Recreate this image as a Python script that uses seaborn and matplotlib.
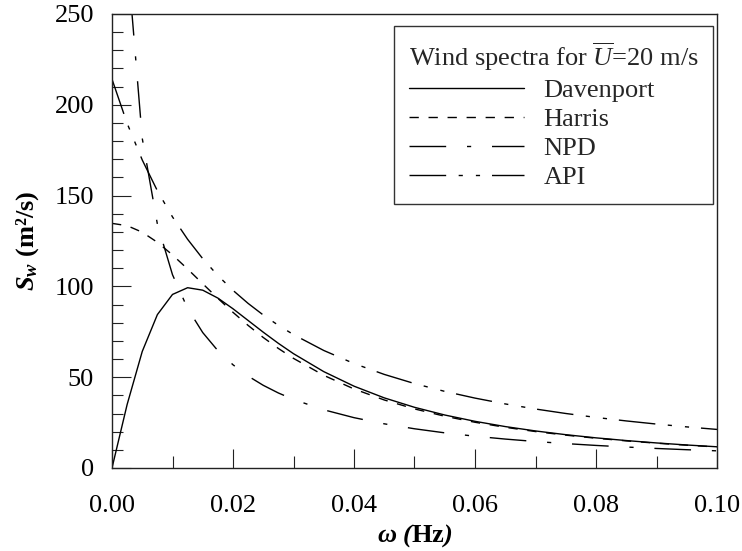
import matplotlib
matplotlib.use('Agg')
import matplotlib.pyplot as plt
from matplotlib.ticker import MultipleLocator, FormatStrFormatter
import pandas as pd
import seaborn as sns

# frequency grid (Hz) and spectral densities (m^2/s)
freq = [0.0, 0.0025, 0.005, 0.0075, 0.01, 0.0125, 0.015, 0.0175, 0.02,
        0.0225, 0.025, 0.0275, 0.03, 0.035, 0.04, 0.045, 0.05, 0.055,
        0.06, 0.065, 0.07, 0.075, 0.08, 0.085, 0.09, 0.095, 0.1]
davenport = [0.0, 34.95, 64.18, 84.46, 95.57, 99.28, 97.92, 93.56, 87.68,
             81.23, 74.78, 68.64, 62.95, 53.07, 45.06, 38.62, 33.42, 29.18,
             25.70, 22.81, 20.40, 18.35, 16.60, 15.11, 13.80, 12.67, 11.68]
harris = [134.70, 133.45, 129.84, 124.29, 117.34, 109.56, 101.46, 93.42, 85.72,
          78.51, 71.87, 65.83, 60.36, 51.03, 43.52, 37.46, 32.54, 28.51,
          25.18, 22.41, 20.07, 18.09, 16.39, 14.93, 13.66, 12.55, 11.58]
npd = [1280.0, 282.68, 181.51, 134.33, 106.42, 87.85, 74.57, 64.60, 56.83,
       50.61, 45.53, 41.31, 37.75, 32.05, 27.72, 24.33, 21.60, 19.36,
       17.50, 15.93, 14.59, 13.44, 12.43, 11.55, 10.76, 10.07, 9.45]
api = [214.10, 189.79, 169.61, 152.66, 138.26, 125.93, 115.26, 105.96, 97.82,
       90.63, 84.25, 78.56, 73.46, 64.72, 57.53, 51.54, 46.49, 42.19,
       38.49, 35.28, 32.48, 30.02, 27.85, 25.92, 24.19, 22.64, 21.24]
spectra = ['Davenport', 'Harris', 'NPD', 'API']

sns.set_theme(style='ticks')
plt.rcParams['font.family'] = ['Liberation Serif', 'DejaVu Serif']
plt.rcParams['mathtext.fontset'] = 'custom'
plt.rcParams['mathtext.rm'] = 'Liberation Serif'
plt.rcParams['mathtext.it'] = 'Liberation Serif:italic'
plt.rcParams['mathtext.bf'] = 'Liberation Serif:bold'
plt.rcParams['mathtext.bfit'] = 'Liberation Serif:italic:bold'
plt.rcParams['lines.scale_dashes'] = False

df = pd.DataFrame({
    'freq': freq * 4,
    'S': davenport + harris + npd + api,
    'Spectrum': sum([[name] * len(freq) for name in spectra], []),
})

# dash patterns in points
dash_map = {
    'Davenport': '',
    'Harris': (6.7, 7.0),
    'NPD': (26.4, 15, 3, 15),
    'API': (26.4, 9, 3, 9.4, 3, 8.6),
}

fig = plt.figure(figsize=(7.42, 5.51), dpi=100)
ax = fig.add_axes([112 / 742, 1 - 468 / 551, 605 / 742, 454 / 551])

sns.lineplot(data=df, x='freq', y='S', style='Spectrum', style_order=spectra,
             dashes=dash_map, color='black', linewidth=1.0, errorbar=None,
             legend=False, sort=False, ax=ax)

ax.set_xlim(0, 0.1)
ax.set_ylim(0, 250)
ax.xaxis.set_major_locator(MultipleLocator(0.02))
ax.xaxis.set_minor_locator(MultipleLocator(0.01))
ax.xaxis.set_major_formatter(FormatStrFormatter('%.2f'))
ax.yaxis.set_major_locator(MultipleLocator(50))
ax.yaxis.set_minor_locator(MultipleLocator(10))

ax.tick_params(which='both', direction='in', top=False, right=False,
               width=0.8, color='#222222', labelsize=19, labelcolor='black')
ax.tick_params(axis='x', which='major', length=13.5, pad=19.5)
ax.tick_params(axis='x', which='minor', length=8.5)
ax.tick_params(axis='y', which='major', length=13.5, pad=13)
ax.tick_params(axis='y', which='minor', length=8)
for sp in ax.spines.values():
    sp.set_linewidth(1.0)
    sp.set_color('#222222')

ax.set_xlabel(r'$\mathbfit{\omega\ (}\mathbf{Hz}\mathbfit{)}$', fontsize=19,
              labelpad=4, color='black')
ax.set_ylabel(r'$\mathbfit{S_w}$ (m²/s)', fontsize=19, fontweight='bold',
              labelpad=10, color='black')

leg = ax.legend(ax.lines, spectra,
                title=r'Wind spectra for $\overline{U}$=20 m/s',
                loc='upper right', bbox_to_anchor=(0.9934, 0.9736),
                borderaxespad=0, frameon=True, fancybox=False, framealpha=1,
                edgecolor='#333333', fontsize=19, title_fontsize=19,
                handlelength=4.36, handletextpad=0.76, labelspacing=0.21,
                borderpad=0.55, alignment='left')
leg.get_frame().set_linewidth(1.0)

fig.savefig('out.png', dpi=100)
